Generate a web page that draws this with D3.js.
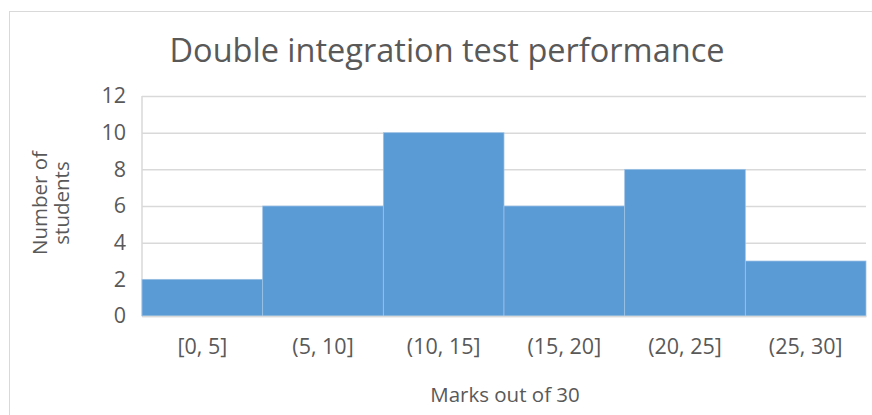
<!DOCTYPE html>
<html>
<head>
<meta charset="utf-8">
<script src="https://cdn.jsdelivr.net/npm/d3@7"></script>
<style>
  body { margin: 0; background: #fff; }
  text { font-family: "Open Sans", sans-serif; fill: #595959; }
</style>
</head>
<body>
<div id="chart"></div>
<script>
// histogram of test marks
const bins = ["[0, 5]", "(5, 10]", "(10, 15]", "(15, 20]", "(20, 25]", "(25, 30]"];
const counts = [2, 6, 10, 6, 8, 3];
const yTicks = [0, 2, 4, 6, 8, 10, 12];

const W = 872, H = 415;
const margin = { top: 96, right: 6, bottom: 99, left: 142 };
const width = W - margin.left - margin.right;
const height = H - margin.top - margin.bottom;
const tickSize = 21.5;
const titleSize = 20.5;

const svg = d3.select("#chart").append("svg")
    .attr("width", W)
    .attr("height", H);

// chart frame
svg.append("rect")
   .attr("x", 9.5).attr("y", 11.5)
   .attr("width", W).attr("height", H)
   .attr("fill", "none")
   .attr("stroke", "#d9d9d9");

const x = d3.scaleBand().domain(bins).range([0, width]).padding(0);
const y = d3.scaleLinear().domain([0, 12]).range([height, 0]);

const g = svg.append("g")
    .attr("transform", `translate(${margin.left}, ${margin.top})`);

// gridlines
const yAxis = g.append("g")
    .call(d3.axisLeft(y).tickValues(yTicks).tickSize(-width).tickPadding(16));
yAxis.select(".domain").remove();
yAxis.selectAll(".tick line").attr("stroke", "#d9d9d9").attr("stroke-width", 1.5);
yAxis.selectAll(".tick text")
     .style("font-size", tickSize + "px")
     .attr("fill", "#595959");

// left axis line
g.append("line")
 .attr("x1", 0).attr("x2", 0)
 .attr("y1", 0).attr("y2", height)
 .attr("stroke", "#d9d9d9").attr("stroke-width", 1.5);

// bars
g.selectAll(".bar")
 .data(counts)
 .enter().append("rect")
 .attr("class", "bar")
 .attr("x", (d, i) => x(bins[i]))
 .attr("y", d => y(d))
 .attr("width", x.bandwidth())
 .attr("height", d => height - y(d))
 .attr("fill", "#5b9bd5")
 .attr("stroke", "#9dc3e6")
 .attr("stroke-width", 0.75);

// x axis
const xAxis = g.append("g")
    .attr("transform", `translate(0, ${height})`)
    .call(d3.axisBottom(x).tickSize(0).tickPadding(23));
xAxis.select(".domain").attr("stroke", "#d9d9d9").attr("stroke-width", 1.5);
xAxis.selectAll(".tick text")
     .style("font-size", tickSize + "px")
     .attr("fill", "#595959");

// title
svg.append("text")
   .attr("x", 447).attr("y", 62)
   .attr("text-anchor", "middle")
   .style("font-size", "32.5px")
   .text("Double integration test performance");

// axis titles
svg.append("text")
   .attr("x", 505).attr("y", 402)
   .attr("text-anchor", "middle")
   .style("font-size", titleSize + "px")
   .text("Marks out of 30");

const yt = svg.append("text")
   .attr("transform", "translate(47, 203) rotate(-90)")
   .attr("text-anchor", "middle")
   .style("font-size", titleSize + "px");
yt.append("tspan").attr("x", 0).attr("dy", 0).text("Number of");
yt.append("tspan").attr("x", 0).attr("dy", 22).text("students");
</script>
</body>
</html>
